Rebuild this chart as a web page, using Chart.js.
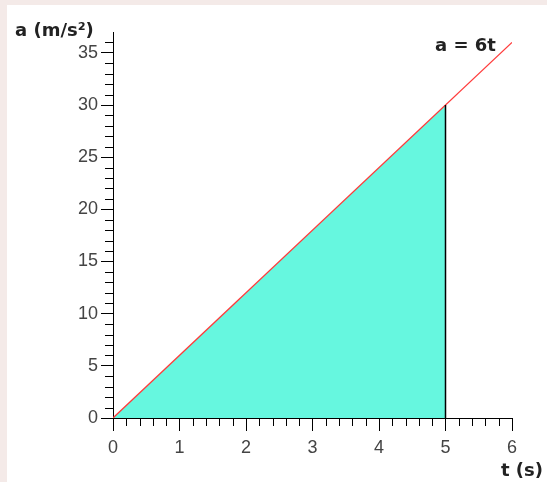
<!DOCTYPE html>
<html>
<head>
<meta charset="utf-8">
<script src="https://cdn.jsdelivr.net/npm/chart.js@4"></script>
<style>
  html, body { margin: 0; padding: 0; background: #f4eae8; }
  #painel { position: absolute; left: 7px; top: 5px; right: 0; bottom: 0; background: #fff; }
  #wrap { position: absolute; left: 0; top: 0; width: 547px; height: 482px; }
</style>
</head>
<body>
<div id="painel"></div>
<div id="wrap"><canvas id="grafico" width="547" height="482"></canvas></div>
<script>
// dados do grafico a = 6t
var tempoReta = [0, 6];
var acelReta = [0, 36];
var tempoArea = [0, 5];
var acelArea = [0, 30];
var tempoCorte = [5, 5];
var acelCorte = [0, 30];

var ticksX = [0, 1, 2, 3, 4, 5, 6];
var ticksY = [0, 5, 10, 15, 20, 25, 30, 35];

function pontos(xs, ys) {
  var p = [];
  for (var i = 0; i < xs.length; i++) p.push({ x: xs[i], y: ys[i] });
  return p;
}

// tracinhos menores dos eixos + textos
const tracosMenores = {
  id: 'tracosMenores',
  afterDraw(chart) {
    const c = chart.ctx;
    const sx = chart.scales.x;
    const sy = chart.scales.y;
    const area = chart.chartArea;
    c.save();
    c.strokeStyle = '#000';
    c.lineWidth = 1;
    c.beginPath();
    for (var i = 0; i <= 30; i++) {
      if (i % 5 == 0) continue;
      var px = Math.round(sx.getPixelForValue(i / 5)) + 0.5;
      c.moveTo(px, area.bottom);
      c.lineTo(px, area.bottom + 8);
    }
    for (var j = 0; j <= 36; j++) {
      if (j % 5 == 0) continue;
      var py = Math.round(sy.getPixelForValue(j)) + 0.5;
      c.moveTo(area.left - 8, py);
      c.lineTo(area.left, py);
    }
    c.stroke();

    c.fillStyle = '#222';
    c.font = 'bold 18px "DejaVu Sans"';
    c.textBaseline = 'alphabetic';
    c.fillText('a (m/s\u00B2)', 15, 36);
    c.fillText('a = 6t', 435, 51);
    c.fillText('t (s)', 501, 476);
    c.restore();
  }
};

const ctx = document.getElementById('grafico');

const myChart = new Chart(ctx, {
  type: 'scatter',
  data: {
    datasets: [
      {
        data: pontos(tempoArea, acelArea),
        showLine: true,
        fill: 'origin',
        backgroundColor: '#66f7df',
        borderWidth: 0,
        pointRadius: 0,
        order: 3
      },
      {
        data: pontos(tempoReta, acelReta),
        showLine: true,
        borderColor: '#ff3b3b',
        borderWidth: 1.3,
        pointRadius: 0,
        order: 2
      },
      {
        data: pontos(tempoCorte, acelCorte),
        showLine: true,
        borderColor: '#000',
        borderWidth: 1.5,
        pointRadius: 0,
        order: 1
      }
    ]
  },
  options: {
    responsive: false,
    animation: false,
    layout: { padding: { top: 32, right: 35, left: 0, bottom: 0 } },
    plugins: {
      legend: { display: false },
      tooltip: { enabled: false }
    },
    scales: {
      x: {
        type: 'linear',
        min: 0,
        max: 6,
        afterBuildTicks: function (s) { s.ticks = ticksX.map(v => ({ value: v })); },
        afterFit: function (s) { s.height = 64; },
        grid: { drawOnChartArea: false, tickLength: 13, color: '#000', lineWidth: 1 },
        border: { color: '#000', width: 1 },
        ticks: { color: '#444', padding: 6, maxRotation: 0, font: { family: 'Liberation Sans', size: 18 } }
      },
      y: {
        type: 'linear',
        min: 0,
        max: 37,
        afterBuildTicks: function (s) { s.ticks = ticksY.map(v => ({ value: v })); },
        afterFit: function (s) { s.width = 113; },
        grid: { drawOnChartArea: false, tickLength: 12, color: '#000', lineWidth: 1 },
        border: { color: '#000', width: 1 },
        ticks: { color: '#444', padding: 3, font: { family: 'Liberation Sans', size: 18 } }
      }
    }
  },
  plugins: [tracosMenores]
});
</script>
</body>
</html>
